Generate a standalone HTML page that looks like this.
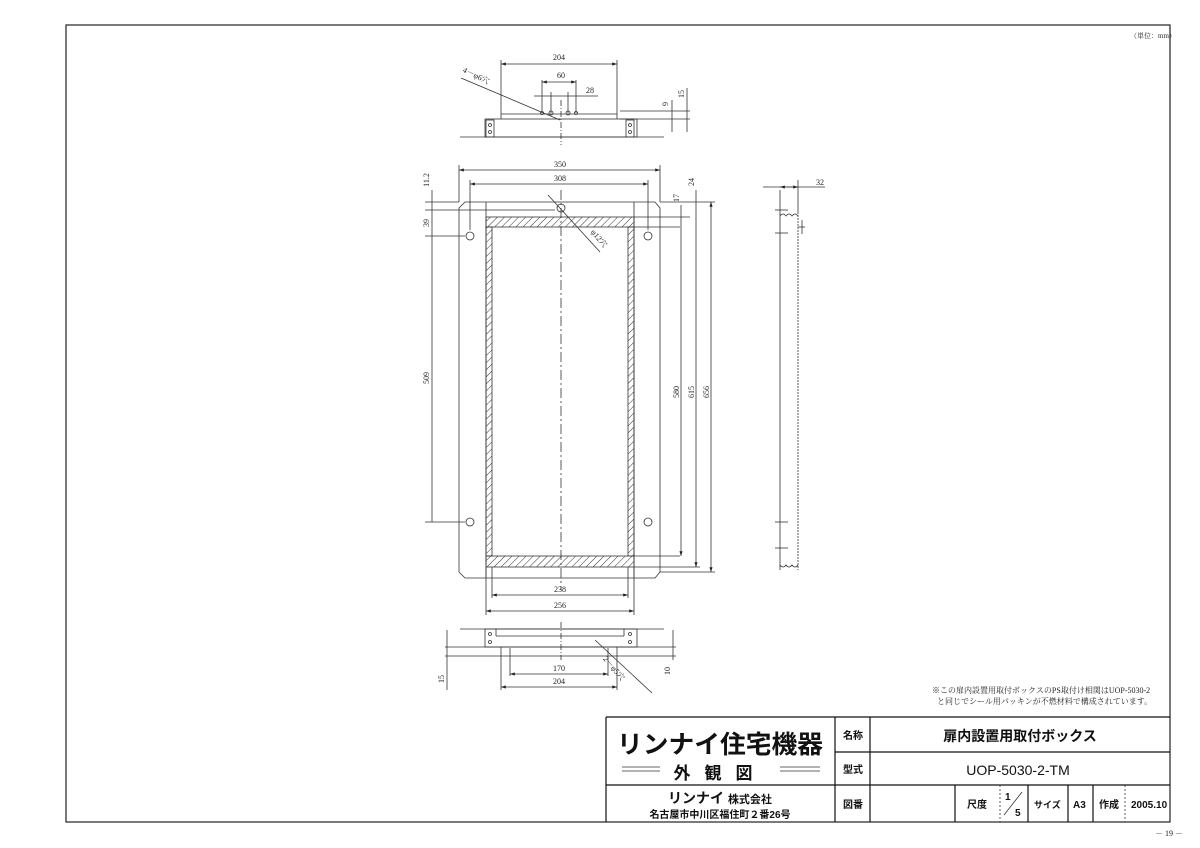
<!DOCTYPE html>
<html><head><meta charset="utf-8"><style>
html,body{margin:0;padding:0;background:#fff}
svg{display:block}
text{font-family:"Liberation Serif","Noto Serif CJK SC",serif;fill:#222}
text.s{font-family:"Liberation Sans","Noto Sans CJK JP",sans-serif;font-weight:bold;fill:#111}
</style></head><body>
<svg width="1200" height="848" viewBox="0 0 1200 848" xmlns="http://www.w3.org/2000/svg">
<defs>
<pattern id="h" width="5" height="5" patternUnits="userSpaceOnUse" patternTransform="rotate(45)">
<line x1="0" y1="0" x2="0" y2="5" stroke="#333" stroke-width="1"/></pattern>
<marker id="a" markerWidth="6" markerHeight="4" refX="6" refY="2" orient="auto-start-reverse"><path d="M0,0L6,2L0,4z" fill="#222"/></marker>
</defs>
<rect x="66" y="25" width="1104" height="797" fill="none" stroke="#222" stroke-width="1.2"/>
<text x="1130" y="38" font-size="7">（単位：mm）</text>
<text x="1155" y="836" font-size="8">－ 19 －</text>

<g stroke="#333" stroke-width="0.8" fill="none">
<line x1="460" y1="137" x2="664" y2="137"/>
<rect x="485" y="119" width="152" height="18"/>
<line x1="501" y1="114" x2="617" y2="114"/>
<line x1="501" y1="60" x2="501" y2="119"/><line x1="617" y1="60" x2="617" y2="119"/>
<line x1="501" y1="64" x2="617" y2="64" marker-start="url(#a)" marker-end="url(#a)"/>
<line x1="542" y1="80" x2="542" y2="113"/><line x1="576" y1="80" x2="576" y2="113"/>
<line x1="542" y1="82" x2="576" y2="82" marker-start="url(#a)" marker-end="url(#a)"/>
<line x1="534" y1="96" x2="598" y2="96"/>
<line x1="551" y1="92" x2="551" y2="113"/><line x1="568" y1="92" x2="568" y2="113"/>
<line x1="461" y1="78" x2="560" y2="120"/>
<line x1="561" y1="100" x2="561" y2="145" stroke-dasharray="6 2 1 2"/>
<line x1="620" y1="111" x2="690" y2="111"/><line x1="620" y1="119" x2="690" y2="119"/>
<line x1="672" y1="100" x2="672" y2="132"/><line x1="687" y1="88" x2="687" y2="132"/>
<rect x="486" y="120" width="8" height="17"/><rect x="626" y="120" width="8" height="17"/>
<circle cx="490" cy="125" r="1.5"/><circle cx="490" cy="132" r="1.5"/><circle cx="630" cy="125" r="1.5"/><circle cx="630" cy="132" r="1.5"/>
<circle cx="551" cy="113" r="2"/><circle cx="568" cy="113" r="2"/><circle cx="542" cy="113" r="1.5"/><circle cx="576" cy="113" r="1.5"/>

<path d="M465,202 L655,202 L660,208 L660,572 L655,578 L465,578 L459,572 L459,208 Z"/>
<rect x="486" y="217" width="148" height="10" fill="url(#h)"/>
<rect x="486" y="556" width="148" height="11" fill="url(#h)"/>
<rect x="486" y="227" width="6" height="329" fill="url(#h)"/>
<rect x="628" y="227" width="6" height="329" fill="url(#h)"/>
<line x1="486" y1="202" x2="486" y2="578"/><line x1="634" y1="202" x2="634" y2="578"/>
<line x1="561" y1="190" x2="561" y2="590" stroke-dasharray="10 3 2 3"/>
<circle cx="470" cy="236" r="4"/><circle cx="648" cy="236" r="4"/><circle cx="470" cy="522" r="4"/><circle cx="648" cy="522" r="4"/>
<circle cx="561" cy="208" r="4"/>
<line x1="548" y1="195" x2="600" y2="252"/>
<line x1="459" y1="165" x2="459" y2="202"/><line x1="660" y1="165" x2="660" y2="202"/>
<line x1="459" y1="170" x2="660" y2="170" marker-start="url(#a)" marker-end="url(#a)"/>
<line x1="470" y1="180" x2="470" y2="230"/><line x1="648" y1="180" x2="648" y2="230"/>
<line x1="470" y1="184" x2="648" y2="184" marker-start="url(#a)" marker-end="url(#a)"/>
<line x1="425" y1="202" x2="459" y2="202"/><line x1="425" y1="210" x2="555" y2="210"/><line x1="425" y1="236" x2="465" y2="236"/><line x1="425" y1="522" x2="465" y2="522"/>
<line x1="432" y1="190" x2="432" y2="522"/>
<line x1="660" y1="202" x2="715" y2="202"/><line x1="634" y1="217" x2="690" y2="217"/><line x1="634" y1="227" x2="680" y2="227"/>
<line x1="634" y1="556" x2="680" y2="556"/><line x1="634" y1="567" x2="700" y2="567"/><line x1="660" y1="572" x2="715" y2="572"/>
<line x1="681" y1="205" x2="681" y2="556" marker-end="url(#a)"/>
<line x1="696" y1="190" x2="696" y2="567" marker-end="url(#a)"/>
<line x1="711" y1="202" x2="711" y2="572" marker-start="url(#a)" marker-end="url(#a)"/>
<line x1="486" y1="567" x2="486" y2="615"/><line x1="634" y1="567" x2="634" y2="615"/>
<line x1="492" y1="567" x2="492" y2="598"/><line x1="628" y1="567" x2="628" y2="598"/>
<line x1="492" y1="595" x2="628" y2="595" marker-start="url(#a)" marker-end="url(#a)"/>
<line x1="486" y1="611" x2="634" y2="611" marker-start="url(#a)" marker-end="url(#a)"/>

<line x1="780" y1="190" x2="780" y2="570"/><line x1="798" y1="212" x2="798" y2="570" stroke-dasharray="2 1"/>
<path d="M780,216 q3,-4 6,0 q3,-4 6,0 q3,-4 6,0"/>
<line x1="763" y1="187" x2="825" y2="187"/>
<line x1="780" y1="187" x2="798" y2="187" marker-start="url(#a)" marker-end="url(#a)"/>
<line x1="798" y1="180" x2="798" y2="212"/>
<line x1="775" y1="210" x2="788" y2="210"/><line x1="775" y1="233" x2="788" y2="233"/>
<line x1="798" y1="227" x2="805" y2="227"/><line x1="802" y1="220" x2="802" y2="234"/>
<line x1="775" y1="522" x2="788" y2="522"/><line x1="775" y1="548" x2="788" y2="548"/>
<path d="M780,565 q3,4 6,0 q3,4 6,0 q3,4 6,0"/>

<line x1="460" y1="629" x2="664" y2="629"/>
<rect x="485" y="629" width="152" height="18"/>
<line x1="496" y1="629" x2="496" y2="636"/><line x1="496" y1="636" x2="624" y2="636"/><line x1="624" y1="629" x2="624" y2="636"/>
<circle cx="490" cy="634" r="1.5"/><circle cx="490" cy="642" r="1.5"/><circle cx="630" cy="634" r="1.5"/><circle cx="630" cy="642" r="1.5"/>
<line x1="445" y1="647" x2="676" y2="647"/><line x1="445" y1="656" x2="676" y2="656"/>
<line x1="501" y1="647" x2="501" y2="690"/><line x1="617" y1="647" x2="617" y2="690"/>
<line x1="510" y1="648" x2="510" y2="676"/><line x1="608" y1="648" x2="608" y2="676"/>
<line x1="510" y1="674" x2="608" y2="674" marker-start="url(#a)" marker-end="url(#a)"/>
<line x1="501" y1="687" x2="617" y2="687" marker-start="url(#a)" marker-end="url(#a)"/>
<line x1="595" y1="640" x2="652" y2="693"/>
<line x1="447" y1="630" x2="447" y2="690"/><line x1="673" y1="630" x2="673" y2="660"/>
<line x1="561" y1="622" x2="561" y2="660" stroke-dasharray="6 2 1 2"/>

<g stroke="#111" stroke-width="1.2">
<line x1="606" y1="717" x2="1170" y2="717"/>
<line x1="606" y1="717" x2="606" y2="822"/>
<line x1="835" y1="717" x2="835" y2="822"/><line x1="870" y1="717" x2="870" y2="822"/>
<line x1="835" y1="752" x2="1170" y2="752"/>
<line x1="606" y1="785" x2="1170" y2="785"/>
<line x1="955" y1="785" x2="955" y2="822"/>
<line x1="1028" y1="785" x2="1028" y2="822"/><line x1="1068" y1="785" x2="1068" y2="822"/><line x1="1093" y1="785" x2="1093" y2="822"/>
</g>
<g stroke-dasharray="2 2"><line x1="1000" y1="785" x2="1000" y2="822"/><line x1="1125" y1="785" x2="1125" y2="822"/></g>
<line x1="1004" y1="815" x2="1022" y2="792"/>
<line x1="622" y1="767" x2="660" y2="767"/><line x1="622" y1="771" x2="660" y2="771"/>
<line x1="780" y1="767" x2="820" y2="767"/><line x1="780" y1="771" x2="820" y2="771"/>
</g>

<g font-size="8" text-anchor="middle">
<text x="559" y="60">204</text><text x="561" y="78">60</text><text x="590" y="93">28</text>
<text x="475" y="78" transform="rotate(26 475 78)">4－φ6穴</text>
<text x="668" y="104" transform="rotate(-90 668 104)">9</text>
<text x="684" y="94" transform="rotate(-90 684 94)">15</text>
<text x="560" y="167">350</text><text x="560" y="181">308</text>
<text x="429" y="180" transform="rotate(-90 429 180)">11.2</text>
<text x="429" y="223" transform="rotate(-90 429 223)">39</text>
<text x="429" y="378" transform="rotate(-90 429 378)">509</text>
<text x="679" y="198" transform="rotate(-90 679 198)">17</text>
<text x="694" y="182" transform="rotate(-90 694 182)">24</text>
<text x="679" y="392" transform="rotate(-90 679 392)">580</text>
<text x="694" y="392" transform="rotate(-90 694 392)">615</text>
<text x="709" y="392" transform="rotate(-90 709 392)">656</text>
<text x="597" y="240" transform="rotate(50 597 240)">φ12穴</text>
<text x="820" y="185">32</text>
<text x="560" y="592">238</text><text x="560" y="608">256</text>
<text x="559" y="671">170</text><text x="559" y="684">204</text>
<text x="612" y="670" transform="rotate(50 612 670)">2－φ5穴</text>
<text x="444" y="679" transform="rotate(-90 444 679)">15</text>
<text x="670" y="671" transform="rotate(-90 670 671)">10</text>
</g>
<g font-size="8">
<text x="932" y="693">※この扉内設置用取付ボックスのPS取付け相関はUOP-5030-2</text>
<text x="937" y="704">と同じでシール用パッキンが不燃材料で構成されています。</text>
</g>

<text class="s" x="720" y="753" font-size="25" text-anchor="middle" textLength="206" lengthAdjust="spacingAndGlyphs">リンナイ住宅機器</text>
<text class="s" x="720" y="779" font-size="17" text-anchor="middle" letter-spacing="14">外観図</text>
<text class="s" x="720" y="803" font-size="14" text-anchor="middle">リンナイ <tspan font-size="11">株式会社</tspan></text>
<text class="s" x="720" y="818" font-size="10" text-anchor="middle">名古屋市中川区福住町２番26号</text>
<text class="s" font-size="10" x="843" y="739">名称</text>
<text class="s" font-size="10" x="843" y="773">型式</text>
<text class="s" font-size="10" x="843" y="808">図番</text>
<text class="s" font-size="10" x="967" y="808">尺度</text>
<text class="s" font-size="9" x="1034" y="808">サイズ</text>
<text class="s" font-size="10" x="1073" y="808">A3</text>
<text class="s" font-size="10" x="1099" y="808">作成</text>
<text class="s" font-size="10" x="1131" y="808">2005.10</text>
<text class="s" x="1005" y="800" font-size="10">1</text><text class="s" x="1015" y="816" font-size="10">5</text>
<text class="s" x="1020" y="741" font-size="14" text-anchor="middle">扉内設置用取付ボックス</text>
<text class="s" x="1018" y="775" font-size="14" text-anchor="middle" style="font-weight:normal">UOP-5030-2-TM</text>
</svg>
</body></html>
